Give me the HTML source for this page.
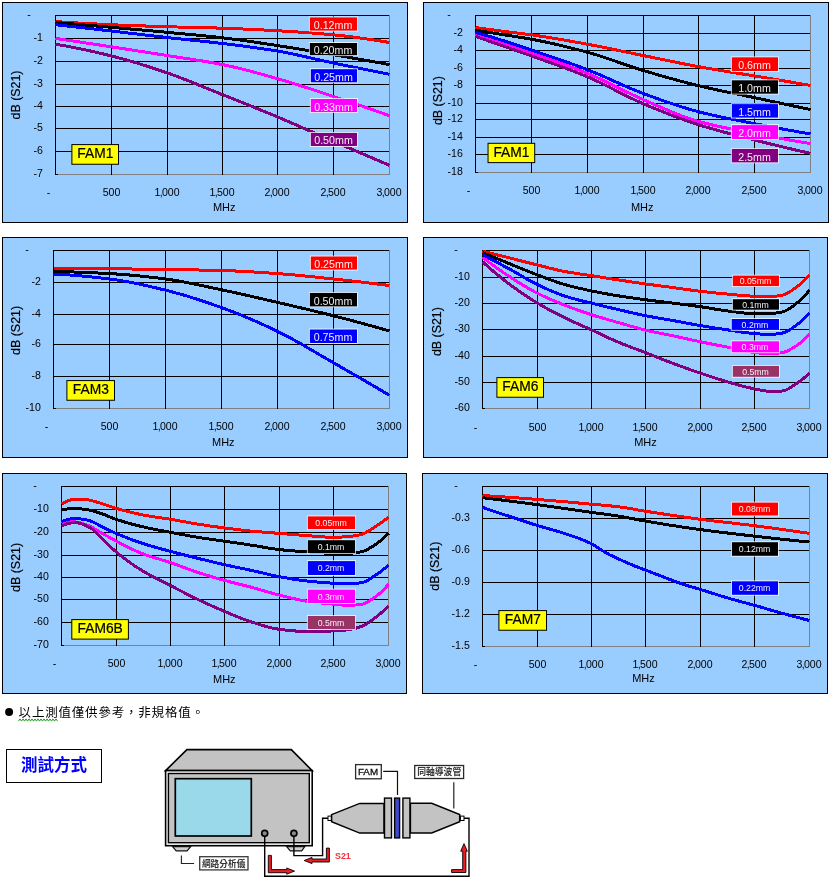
<!DOCTYPE html>
<html lang="zh-Hant">
<head>
<meta charset="utf-8">
<title>FAM S21</title>
<style>
html,body{margin:0;padding:0;background:#fff;}
body{width:831px;height:885px;overflow:hidden;position:relative;}
svg{position:absolute;left:0;top:0;display:block;}
text{white-space:pre;}
</style>
</head>
<body>
<svg width="831" height="885" viewBox="0 0 831 885">
<rect width="831" height="885" fill="#fff"/>
<g>
<rect x="2.5" y="2.5" width="405" height="220" fill="#99CCFF" stroke="#000" stroke-width="1"/>
<rect x="55.5" y="15.5" width="334" height="159" fill="none" stroke="#808080" stroke-width="1"/>
<path d="M55 15.5H389M55 38.5H389M55 61.5H389M55 84.5H389M55 106.5H389M55 128.5H389M55 151.5H389M55 174.5H58M55.5 15V175M111.5 15V175M167.5 15V175M222.5 15V175M277.5 15V175M333.5 15V175" stroke="#000" stroke-width="1" fill="none" shape-rendering="crispEdges"/>
<g fill="none" stroke-width="3" stroke-linejoin="round" shape-rendering="crispEdges">
<path d="M55.5 38.4 L58.98 38.92 L62.46 39.43 L65.94 39.95 L69.42 40.47 L72.9 40.99 L76.38 41.52 L79.85 42.04 L83.33 42.56 L86.81 43.09 L90.29 43.62 L93.77 44.14 L97.25 44.67 L100.73 45.2 L104.21 45.73 L107.69 46.27 L111.17 46.8 L114.65 47.33 L118.12 47.87 L121.6 48.41 L125.08 48.94 L128.56 49.48 L132.04 50.02 L135.52 50.56 L139 51.11 L142.48 51.65 L145.96 52.2 L149.44 52.74 L152.92 53.29 L156.4 53.84 L159.88 54.39 L163.35 54.94 L166.83 55.5 L170.31 56.05 L173.79 56.59 L177.27 57.12 L180.75 57.65 L184.23 58.18 L187.71 58.7 L191.19 59.24 L194.67 59.77 L198.15 60.32 L201.62 60.87 L205.1 61.44 L208.58 62.03 L212.06 62.64 L215.54 63.27 L219.02 63.92 L222.5 64.6 L225.98 65.31 L229.46 66.06 L232.94 66.84 L236.42 67.66 L239.9 68.5 L243.38 69.36 L246.85 70.25 L250.33 71.16 L253.81 72.09 L257.29 73.04 L260.77 73.99 L264.25 74.96 L267.73 75.94 L271.21 76.92 L274.69 77.91 L278.17 78.9 L281.65 79.9 L285.12 80.92 L288.6 81.97 L292.08 83.03 L295.56 84.11 L299.04 85.2 L302.52 86.31 L306 87.43 L309.48 88.56 L312.96 89.7 L316.44 90.84 L319.92 91.99 L323.4 93.14 L326.88 94.3 L330.35 95.45 L333.83 96.6 L337.31 97.75 L340.79 98.91 L344.27 100.07 L347.75 101.24 L351.23 102.41 L354.71 103.59 L358.19 104.78 L361.67 105.97 L365.15 107.17 L368.62 108.37 L372.1 109.58 L375.58 110.79 L379.06 112.01 L382.54 113.24 L386.02 114.47 L389.5 115.7" stroke="#FF00FF"/>
<path d="M55.5 44.2 L58.98 44.78 L62.46 45.38 L65.94 46.01 L69.42 46.66 L72.9 47.33 L76.38 48.02 L79.85 48.73 L83.33 49.46 L86.81 50.21 L90.29 50.97 L93.77 51.75 L97.25 52.55 L100.73 53.37 L104.21 54.2 L107.69 55.04 L111.17 55.9 L114.65 56.78 L118.12 57.69 L121.6 58.63 L125.08 59.59 L128.56 60.58 L132.04 61.6 L135.52 62.63 L139 63.69 L142.48 64.77 L145.96 65.87 L149.44 66.99 L152.92 68.12 L156.4 69.27 L159.88 70.44 L163.35 71.61 L166.83 72.8 L170.31 74.01 L173.79 75.26 L177.27 76.55 L180.75 77.86 L184.23 79.21 L187.71 80.57 L191.19 81.96 L194.67 83.36 L198.15 84.77 L201.62 86.2 L205.1 87.62 L208.58 89.05 L212.06 90.48 L215.54 91.9 L219.02 93.3 L222.5 94.7 L225.98 96.09 L229.46 97.47 L232.94 98.86 L236.42 100.24 L239.9 101.63 L243.38 103.02 L246.85 104.41 L250.33 105.8 L253.81 107.2 L257.29 108.61 L260.77 110.02 L264.25 111.44 L267.73 112.87 L271.21 114.3 L274.69 115.75 L278.17 117.2 L281.65 118.67 L285.12 120.15 L288.6 121.65 L292.08 123.16 L295.56 124.67 L299.04 126.2 L302.52 127.73 L306 129.26 L309.48 130.8 L312.96 132.34 L316.44 133.88 L319.92 135.42 L323.4 136.95 L326.88 138.47 L330.35 139.99 L333.83 141.5 L337.31 143 L340.79 144.5 L344.27 146 L347.75 147.5 L351.23 148.99 L354.71 150.48 L358.19 151.97 L361.67 153.46 L365.15 154.95 L368.62 156.43 L372.1 157.92 L375.58 159.4 L379.06 160.88 L382.54 162.35 L386.02 163.83 L389.5 165.3" stroke="#800080"/>
<path d="M55.5 21.6 L58.98 21.83 L62.46 22.05 L65.94 22.27 L69.42 22.48 L72.9 22.69 L76.38 22.9 L79.85 23.1 L83.33 23.3 L86.81 23.5 L90.29 23.68 L93.77 23.87 L97.25 24.04 L100.73 24.22 L104.21 24.38 L107.69 24.54 L111.17 24.7 L114.65 24.85 L118.12 25 L121.6 25.14 L125.08 25.27 L128.56 25.41 L132.04 25.54 L135.52 25.67 L139 25.79 L142.48 25.91 L145.96 26.03 L149.44 26.15 L152.92 26.26 L156.4 26.37 L159.88 26.48 L163.35 26.59 L166.83 26.7 L170.31 26.8 L173.79 26.9 L177.27 27 L180.75 27.09 L184.23 27.17 L187.71 27.26 L191.19 27.34 L194.67 27.43 L198.15 27.51 L201.62 27.6 L205.1 27.69 L208.58 27.78 L212.06 27.88 L215.54 27.98 L219.02 28.08 L222.5 28.2 L225.98 28.32 L229.46 28.45 L232.94 28.58 L236.42 28.72 L239.9 28.87 L243.38 29.02 L246.85 29.18 L250.33 29.34 L253.81 29.51 L257.29 29.68 L260.77 29.85 L264.25 30.04 L267.73 30.22 L271.21 30.41 L274.69 30.6 L278.17 30.8 L281.65 31 L285.12 31.21 L288.6 31.42 L292.08 31.64 L295.56 31.86 L299.04 32.1 L302.52 32.33 L306 32.58 L309.48 32.84 L312.96 33.1 L316.44 33.38 L319.92 33.66 L323.4 33.95 L326.88 34.26 L330.35 34.57 L333.83 34.9 L337.31 35.24 L340.79 35.61 L344.27 35.99 L347.75 36.4 L351.23 36.82 L354.71 37.26 L358.19 37.72 L361.67 38.2 L365.15 38.69 L368.62 39.19 L372.1 39.71 L375.58 40.25 L379.06 40.79 L382.54 41.35 L386.02 41.92 L389.5 42.5" stroke="#FF0000"/>
<path d="M55.5 22.4 L58.98 22.7 L62.46 23.01 L65.94 23.31 L69.42 23.62 L72.9 23.92 L76.38 24.23 L79.85 24.53 L83.33 24.84 L86.81 25.14 L90.29 25.45 L93.77 25.76 L97.25 26.07 L100.73 26.37 L104.21 26.68 L107.69 26.99 L111.17 27.3 L114.65 27.61 L118.12 27.92 L121.6 28.22 L125.08 28.53 L128.56 28.84 L132.04 29.15 L135.52 29.45 L139 29.76 L142.48 30.07 L145.96 30.39 L149.44 30.7 L152.92 31.01 L156.4 31.33 L159.88 31.65 L163.35 31.97 L166.83 32.3 L170.31 32.63 L173.79 32.95 L177.27 33.27 L180.75 33.59 L184.23 33.91 L187.71 34.24 L191.19 34.56 L194.67 34.89 L198.15 35.23 L201.62 35.57 L205.1 35.92 L208.58 36.27 L212.06 36.64 L215.54 37.01 L219.02 37.4 L222.5 37.8 L225.98 38.21 L229.46 38.64 L232.94 39.09 L236.42 39.55 L239.9 40.02 L243.38 40.51 L246.85 41 L250.33 41.5 L253.81 42.01 L257.29 42.53 L260.77 43.05 L264.25 43.58 L267.73 44.11 L271.21 44.64 L274.69 45.17 L278.17 45.7 L281.65 46.23 L285.12 46.77 L288.6 47.32 L292.08 47.87 L295.56 48.43 L299.04 48.99 L302.52 49.56 L306 50.13 L309.48 50.7 L312.96 51.28 L316.44 51.86 L319.92 52.45 L323.4 53.03 L326.88 53.62 L330.35 54.21 L333.83 54.8 L337.31 55.39 L340.79 55.99 L344.27 56.58 L347.75 57.18 L351.23 57.79 L354.71 58.39 L358.19 59 L361.67 59.61 L365.15 60.22 L368.62 60.84 L372.1 61.46 L375.58 62.08 L379.06 62.71 L382.54 63.34 L386.02 63.97 L389.5 64.6" stroke="#000000"/>
<path d="M55.5 24.7 L58.98 25.09 L62.46 25.48 L65.94 25.87 L69.42 26.26 L72.9 26.65 L76.38 27.04 L79.85 27.43 L83.33 27.83 L86.81 28.22 L90.29 28.61 L93.77 29.01 L97.25 29.41 L100.73 29.8 L104.21 30.2 L107.69 30.6 L111.17 31 L114.65 31.4 L118.12 31.81 L121.6 32.21 L125.08 32.62 L128.56 33.03 L132.04 33.45 L135.52 33.86 L139 34.27 L142.48 34.68 L145.96 35.09 L149.44 35.5 L152.92 35.91 L156.4 36.31 L159.88 36.71 L163.35 37.11 L166.83 37.5 L170.31 37.89 L173.79 38.26 L177.27 38.63 L180.75 39 L184.23 39.36 L187.71 39.72 L191.19 40.08 L194.67 40.44 L198.15 40.8 L201.62 41.16 L205.1 41.53 L208.58 41.91 L212.06 42.29 L215.54 42.68 L219.02 43.08 L222.5 43.5 L225.98 43.92 L229.46 44.35 L232.94 44.78 L236.42 45.21 L239.9 45.65 L243.38 46.1 L246.85 46.56 L250.33 47.02 L253.81 47.5 L257.29 47.99 L260.77 48.49 L264.25 49 L267.73 49.52 L271.21 50.07 L274.69 50.62 L278.17 51.2 L281.65 51.8 L285.12 52.45 L288.6 53.13 L292.08 53.83 L295.56 54.57 L299.04 55.32 L302.52 56.09 L306 56.88 L309.48 57.67 L312.96 58.47 L316.44 59.26 L319.92 60.06 L323.4 60.84 L326.88 61.61 L330.35 62.37 L333.83 63.1 L337.31 63.82 L340.79 64.54 L344.27 65.25 L347.75 65.96 L351.23 66.67 L354.71 67.38 L358.19 68.08 L361.67 68.79 L365.15 69.48 L368.62 70.18 L372.1 70.87 L375.58 71.57 L379.06 72.25 L382.54 72.94 L386.02 73.62 L389.5 74.3" stroke="#0000FF"/>
</g>
<g font-family='"Liberation Sans", sans-serif' font-size="11.2" fill="#000">
<text transform="translate(29 18.1) scale(0.945 1)" text-anchor="middle">-</text>
<text transform="translate(42.8 41.1) scale(0.945 1)" text-anchor="end">-1</text>
<text transform="translate(42.8 64.1) scale(0.945 1)" text-anchor="end">-2</text>
<text transform="translate(42.8 87.1) scale(0.945 1)" text-anchor="end">-3</text>
<text transform="translate(42.8 109.1) scale(0.945 1)" text-anchor="end">-4</text>
<text transform="translate(42.8 131.1) scale(0.945 1)" text-anchor="end">-5</text>
<text transform="translate(42.8 154.1) scale(0.945 1)" text-anchor="end">-6</text>
<text transform="translate(42.8 177.1) scale(0.945 1)" text-anchor="end">-7</text>
<text transform="translate(48.5 195.8) scale(0.945 1)" text-anchor="middle">-</text>
<text transform="translate(111.5 195.8) scale(0.945 1)" text-anchor="middle">500</text>
<text transform="translate(167.1 195.8) scale(0.945 1)" text-anchor="middle">1<tspan dx="-0.7">,</tspan><tspan dx="-0.9">000</tspan></text>
<text transform="translate(222.1 195.8) scale(0.945 1)" text-anchor="middle">1<tspan dx="-0.7">,</tspan><tspan dx="-0.9">500</tspan></text>
<text transform="translate(277.1 195.8) scale(0.945 1)" text-anchor="middle">2<tspan dx="-0.7">,</tspan><tspan dx="-0.9">000</tspan></text>
<text transform="translate(333.1 195.8) scale(0.945 1)" text-anchor="middle">2<tspan dx="-0.7">,</tspan><tspan dx="-0.9">500</tspan></text>
<text transform="translate(389.1 195.8) scale(0.945 1)" text-anchor="middle">3<tspan dx="-0.7">,</tspan><tspan dx="-0.9">000</tspan></text>
<text transform="translate(224.2 211) scale(0.98 1)" text-anchor="middle">MHz</text>
</g>
<text transform="translate(19.8 95) rotate(-90) scale(0.933 1)" text-anchor="middle" font-family='"Liberation Sans", sans-serif' font-size="13.3" fill="#000" stroke="#000" stroke-width="0.2">dB (S21)</text>
<rect x="71.9" y="144.6" width="46.6" height="19.65" fill="#FFFF00" stroke="#000" stroke-width="1"/>
<text x="95.3" y="157.8" text-anchor="middle" font-family='"Liberation Sans", sans-serif' font-size="13.8" fill="#000" stroke="#000" stroke-width="0.2">FAM1</text>
<rect x="308.9" y="16.5" width="49.1" height="15" fill="#fff" fill-opacity="0.8"/>
<rect x="309.8" y="17.4" width="47.3" height="13.2" fill="#FF0000"/>
<text transform="translate(333.05 29) scale(0.946 1)" text-anchor="middle" font-family='"Liberation Sans", sans-serif' font-size="11.3" fill="#fff" fill-opacity="0.93">0.12mm</text>
<rect x="308.9" y="42.1" width="49.1" height="14" fill="#fff" fill-opacity="0.8"/>
<rect x="309.8" y="43" width="47.3" height="12.2" fill="#000000"/>
<text transform="translate(333.05 54) scale(0.946 1)" text-anchor="middle" font-family='"Liberation Sans", sans-serif' font-size="11.3" fill="#fff" fill-opacity="0.93">0.20mm</text>
<rect x="309.9" y="68.3" width="48.1" height="14.9" fill="#fff" fill-opacity="0.8"/>
<rect x="310.8" y="69.2" width="46.3" height="13.1" fill="#0000FF"/>
<text transform="translate(333.55 80.7) scale(0.946 1)" text-anchor="middle" font-family='"Liberation Sans", sans-serif' font-size="11.3" fill="#fff" fill-opacity="0.93">0.25mm</text>
<rect x="309.9" y="98.1" width="48" height="14.9" fill="#fff" fill-opacity="0.8"/>
<rect x="310.8" y="99" width="46.2" height="13.1" fill="#FF00FF"/>
<text transform="translate(333.5 110.95) scale(0.946 1)" text-anchor="middle" font-family='"Liberation Sans", sans-serif' font-size="11.3" fill="#fff" fill-opacity="0.93">0.33mm</text>
<rect x="309.9" y="132" width="48" height="14.9" fill="#fff" fill-opacity="0.8"/>
<rect x="310.8" y="132.9" width="46.2" height="13.1" fill="#800080"/>
<text transform="translate(333.5 143.95) scale(0.946 1)" text-anchor="middle" font-family='"Liberation Sans", sans-serif' font-size="11.3" fill="#fff" fill-opacity="0.93">0.50mm</text>
</g>
<g>
<rect x="423.5" y="2.5" width="405" height="220" fill="#99CCFF" stroke="#000" stroke-width="1"/>
<rect x="475.5" y="15.5" width="335" height="157" fill="none" stroke="#808080" stroke-width="1"/>
<path d="M475 15.5H810M475 33.5H810M475 50.5H810M475 68.5H810M475 85.5H810M475 103.5H810M475 119.5H810M475 137.5H810M475 154.5H810M475 172.5H478M475.5 15V173M531.5 15V173M587.5 15V173M643.5 15V173M698.5 15V173M754.5 15V173" stroke="#000" stroke-width="1" fill="none" shape-rendering="crispEdges"/>
<g fill="none" stroke-width="3" stroke-linejoin="round" shape-rendering="crispEdges">
<path d="M475.5 34.4 L478.99 35.52 L482.48 36.64 L485.97 37.77 L489.46 38.9 L492.95 40.04 L496.44 41.19 L499.93 42.34 L503.42 43.5 L506.91 44.66 L510.4 45.83 L513.89 47.01 L517.38 48.19 L520.86 49.38 L524.35 50.58 L527.84 51.79 L531.33 53 L534.82 54.22 L538.31 55.42 L541.8 56.63 L545.29 57.83 L548.78 59.03 L552.27 60.24 L555.76 61.46 L559.25 62.68 L562.74 63.92 L566.23 65.18 L569.72 66.45 L573.21 67.75 L576.7 69.06 L580.19 70.41 L583.68 71.79 L587.17 73.2 L590.66 74.66 L594.15 76.19 L597.64 77.77 L601.12 79.4 L604.61 81.07 L608.1 82.76 L611.59 84.48 L615.08 86.21 L618.57 87.95 L622.06 89.68 L625.55 91.4 L629.04 93.09 L632.53 94.76 L636.02 96.39 L639.51 97.97 L643 99.5 L646.49 101.01 L649.98 102.53 L653.47 104.05 L656.96 105.58 L660.45 107.1 L663.94 108.61 L667.43 110.09 L670.92 111.55 L674.41 112.98 L677.9 114.37 L681.39 115.71 L684.88 117 L688.36 118.23 L691.85 119.4 L695.34 120.49 L698.83 121.5 L702.32 122.45 L705.81 123.35 L709.3 124.22 L712.79 125.04 L716.28 125.84 L719.77 126.61 L723.26 127.35 L726.75 128.07 L730.24 128.77 L733.73 129.46 L737.22 130.14 L740.71 130.81 L744.2 131.48 L747.69 132.15 L751.18 132.82 L754.67 133.5 L758.16 134.18 L761.65 134.86 L765.14 135.53 L768.62 136.19 L772.11 136.85 L775.6 137.5 L779.09 138.14 L782.58 138.78 L786.07 139.41 L789.56 140.03 L793.05 140.64 L796.54 141.25 L800.03 141.85 L803.52 142.44 L807.01 143.02 L810.5 143.6" stroke="#FF00FF"/>
<path d="M475.5 36.4 L478.99 37.61 L482.48 38.82 L485.97 40.03 L489.46 41.24 L492.95 42.45 L496.44 43.67 L499.93 44.88 L503.42 46.1 L506.91 47.32 L510.4 48.53 L513.89 49.74 L517.38 50.96 L520.86 52.18 L524.35 53.41 L527.84 54.65 L531.33 55.9 L534.82 57.15 L538.31 58.4 L541.8 59.64 L545.29 60.88 L548.78 62.12 L552.27 63.37 L555.76 64.62 L559.25 65.88 L562.74 67.16 L566.23 68.45 L569.72 69.76 L573.21 71.09 L576.7 72.45 L580.19 73.84 L583.68 75.25 L587.17 76.7 L590.66 78.2 L594.15 79.78 L597.64 81.41 L601.12 83.09 L604.61 84.81 L608.1 86.56 L611.59 88.34 L615.08 90.12 L618.57 91.9 L622.06 93.68 L625.55 95.43 L629.04 97.16 L632.53 98.85 L636.02 100.5 L639.51 102.08 L643 103.6 L646.49 105.08 L649.98 106.54 L653.47 107.99 L656.96 109.42 L660.45 110.83 L663.94 112.23 L667.43 113.6 L670.92 114.95 L674.41 116.28 L677.9 117.58 L681.39 118.86 L684.88 120.11 L688.36 121.33 L691.85 122.52 L695.34 123.68 L698.83 124.8 L702.32 125.89 L705.81 126.95 L709.3 127.99 L712.79 129 L716.28 129.98 L719.77 130.95 L723.26 131.9 L726.75 132.83 L730.24 133.75 L733.73 134.66 L737.22 135.56 L740.71 136.45 L744.2 137.34 L747.69 138.23 L751.18 139.11 L754.67 140 L758.16 140.89 L761.65 141.77 L765.14 142.64 L768.62 143.51 L772.11 144.37 L775.6 145.23 L779.09 146.08 L782.58 146.92 L786.07 147.75 L789.56 148.58 L793.05 149.4 L796.54 150.22 L800.03 151.02 L803.52 151.82 L807.01 152.62 L810.5 153.4" stroke="#800080"/>
<path d="M475.5 27.5 L478.99 27.99 L482.48 28.48 L485.97 28.96 L489.46 29.44 L492.95 29.91 L496.44 30.38 L499.93 30.84 L503.42 31.3 L506.91 31.75 L510.4 32.17 L513.89 32.59 L517.38 33.01 L520.86 33.43 L524.35 33.87 L527.84 34.32 L531.33 34.8 L534.82 35.3 L538.31 35.82 L541.8 36.35 L545.29 36.9 L548.78 37.46 L552.27 38.03 L555.76 38.61 L559.25 39.2 L562.74 39.81 L566.23 40.42 L569.72 41.03 L573.21 41.66 L576.7 42.29 L580.19 42.92 L583.68 43.56 L587.17 44.2 L590.66 44.85 L594.15 45.51 L597.64 46.19 L601.12 46.88 L604.61 47.58 L608.1 48.29 L611.59 49.01 L615.08 49.73 L618.57 50.45 L622.06 51.18 L625.55 51.91 L629.04 52.63 L632.53 53.36 L636.02 54.08 L639.51 54.79 L643 55.5 L646.49 56.21 L649.98 56.92 L653.47 57.64 L656.96 58.36 L660.45 59.08 L663.94 59.8 L667.43 60.52 L670.92 61.24 L674.41 61.95 L677.9 62.66 L681.39 63.36 L684.88 64.05 L688.36 64.73 L691.85 65.4 L695.34 66.06 L698.83 66.7 L702.32 67.33 L705.81 67.94 L709.3 68.55 L712.79 69.14 L716.28 69.73 L719.77 70.31 L723.26 70.88 L726.75 71.45 L730.24 72.02 L733.73 72.58 L737.22 73.14 L740.71 73.71 L744.2 74.27 L747.69 74.84 L751.18 75.42 L754.67 76 L758.16 76.58 L761.65 77.17 L765.14 77.75 L768.62 78.34 L772.11 78.93 L775.6 79.51 L779.09 80.1 L782.58 80.69 L786.07 81.28 L789.56 81.86 L793.05 82.45 L796.54 83.04 L800.03 83.63 L803.52 84.22 L807.01 84.81 L810.5 85.4" stroke="#FF0000"/>
<path d="M475.5 30.2 L478.99 30.76 L482.48 31.32 L485.97 31.89 L489.46 32.45 L492.95 33.01 L496.44 33.58 L499.93 34.14 L503.42 34.7 L506.91 35.25 L510.4 35.79 L513.89 36.32 L517.38 36.86 L520.86 37.41 L524.35 37.97 L527.84 38.57 L531.33 39.2 L534.82 39.86 L538.31 40.55 L541.8 41.26 L545.29 41.99 L548.78 42.74 L552.27 43.51 L555.76 44.3 L559.25 45.11 L562.74 45.94 L566.23 46.78 L569.72 47.64 L573.21 48.52 L576.7 49.42 L580.19 50.33 L583.68 51.26 L587.17 52.2 L590.66 53.18 L594.15 54.21 L597.64 55.28 L601.12 56.39 L604.61 57.54 L608.1 58.71 L611.59 59.91 L615.08 61.11 L618.57 62.32 L622.06 63.53 L625.55 64.73 L629.04 65.92 L632.53 67.09 L636.02 68.23 L639.51 69.33 L643 70.4 L646.49 71.44 L649.98 72.47 L653.47 73.5 L656.96 74.52 L660.45 75.53 L663.94 76.54 L667.43 77.53 L670.92 78.51 L674.41 79.47 L677.9 80.43 L681.39 81.37 L684.88 82.29 L688.36 83.19 L691.85 84.08 L695.34 84.95 L698.83 85.8 L702.32 86.63 L705.81 87.43 L709.3 88.22 L712.79 88.99 L716.28 89.74 L719.77 90.49 L723.26 91.22 L726.75 91.94 L730.24 92.66 L733.73 93.37 L737.22 94.08 L740.71 94.8 L744.2 95.51 L747.69 96.23 L751.18 96.96 L754.67 97.7 L758.16 98.44 L761.65 99.19 L765.14 99.93 L768.62 100.67 L772.11 101.42 L775.6 102.16 L779.09 102.91 L782.58 103.65 L786.07 104.39 L789.56 105.14 L793.05 105.88 L796.54 106.62 L800.03 107.37 L803.52 108.11 L807.01 108.86 L810.5 109.6" stroke="#000000"/>
<path d="M475.5 32.4 L478.99 33.38 L482.48 34.38 L485.97 35.4 L489.46 36.43 L492.95 37.47 L496.44 38.54 L499.93 39.61 L503.42 40.7 L506.91 41.81 L510.4 42.94 L513.89 44.09 L517.38 45.26 L520.86 46.43 L524.35 47.62 L527.84 48.81 L531.33 50 L534.82 51.19 L538.31 52.37 L541.8 53.55 L545.29 54.73 L548.78 55.91 L552.27 57.1 L555.76 58.29 L559.25 59.49 L562.74 60.7 L566.23 61.92 L569.72 63.16 L573.21 64.41 L576.7 65.67 L580.19 66.96 L583.68 68.27 L587.17 69.6 L590.66 70.97 L594.15 72.4 L597.64 73.86 L601.12 75.37 L604.61 76.9 L608.1 78.46 L611.59 80.02 L615.08 81.59 L618.57 83.16 L622.06 84.72 L625.55 86.26 L629.04 87.77 L632.53 89.25 L636.02 90.68 L639.51 92.07 L643 93.4 L646.49 94.69 L649.98 95.98 L653.47 97.25 L656.96 98.52 L660.45 99.76 L663.94 100.99 L667.43 102.2 L670.92 103.39 L674.41 104.55 L677.9 105.69 L681.39 106.79 L684.88 107.87 L688.36 108.91 L691.85 109.91 L695.34 110.88 L698.83 111.8 L702.32 112.69 L705.81 113.54 L709.3 114.37 L712.79 115.18 L716.28 115.96 L719.77 116.72 L723.26 117.46 L726.75 118.18 L730.24 118.9 L733.73 119.6 L737.22 120.29 L740.71 120.97 L744.2 121.65 L747.69 122.34 L751.18 123.02 L754.67 123.7 L758.16 124.38 L761.65 125.06 L765.14 125.73 L768.62 126.4 L772.11 127.06 L775.6 127.71 L779.09 128.36 L782.58 129 L786.07 129.64 L789.56 130.27 L793.05 130.89 L796.54 131.51 L800.03 132.12 L803.52 132.72 L807.01 133.31 L810.5 133.9" stroke="#0000FF"/>
</g>
<g font-family='"Liberation Sans", sans-serif' font-size="11.2" fill="#000">
<text transform="translate(449 18.1) scale(0.945 1)" text-anchor="middle">-</text>
<text transform="translate(462.8 36.1) scale(0.945 1)" text-anchor="end">-2</text>
<text transform="translate(462.8 53.1) scale(0.945 1)" text-anchor="end">-4</text>
<text transform="translate(462.8 71.1) scale(0.945 1)" text-anchor="end">-6</text>
<text transform="translate(462.8 88.1) scale(0.945 1)" text-anchor="end">-8</text>
<text transform="translate(462.8 106.1) scale(0.945 1)" text-anchor="end">-10</text>
<text transform="translate(462.8 122.1) scale(0.945 1)" text-anchor="end">-12</text>
<text transform="translate(462.8 140.1) scale(0.945 1)" text-anchor="end">-14</text>
<text transform="translate(462.8 157.1) scale(0.945 1)" text-anchor="end">-16</text>
<text transform="translate(462.8 175.1) scale(0.945 1)" text-anchor="end">-18</text>
<text transform="translate(468.5 193.8) scale(0.945 1)" text-anchor="middle">-</text>
<text transform="translate(531.5 193.8) scale(0.945 1)" text-anchor="middle">500</text>
<text transform="translate(587.1 193.8) scale(0.945 1)" text-anchor="middle">1<tspan dx="-0.7">,</tspan><tspan dx="-0.9">000</tspan></text>
<text transform="translate(643.1 193.8) scale(0.945 1)" text-anchor="middle">1<tspan dx="-0.7">,</tspan><tspan dx="-0.9">500</tspan></text>
<text transform="translate(698.1 193.8) scale(0.945 1)" text-anchor="middle">2<tspan dx="-0.7">,</tspan><tspan dx="-0.9">000</tspan></text>
<text transform="translate(754.1 193.8) scale(0.945 1)" text-anchor="middle">2<tspan dx="-0.7">,</tspan><tspan dx="-0.9">500</tspan></text>
<text transform="translate(810.1 193.8) scale(0.945 1)" text-anchor="middle">3<tspan dx="-0.7">,</tspan><tspan dx="-0.9">000</tspan></text>
<text transform="translate(642.2 211) scale(0.98 1)" text-anchor="middle">MHz</text>
</g>
<text transform="translate(441.6 100.6) rotate(-90) scale(0.933 1)" text-anchor="middle" font-family='"Liberation Sans", sans-serif' font-size="13.3" fill="#000" stroke="#000" stroke-width="0.2">dB (S21)</text>
<rect x="488.05" y="143.3" width="46.65" height="19.3" fill="#FFFF00" stroke="#000" stroke-width="1"/>
<text x="511.48" y="156.8" text-anchor="middle" font-family='"Liberation Sans", sans-serif' font-size="13.8" fill="#000" stroke="#000" stroke-width="0.2">FAM1</text>
<rect x="730.9" y="56.4" width="48" height="15.5" fill="#fff" fill-opacity="0.8"/>
<rect x="731.8" y="57.3" width="46.2" height="13.7" fill="#FF0000"/>
<text transform="translate(754.5 69.3) scale(0.946 1)" text-anchor="middle" font-family='"Liberation Sans", sans-serif' font-size="11.3" fill="#fff" fill-opacity="0.93">0.6mm</text>
<rect x="730.9" y="79.4" width="48" height="15.2" fill="#fff" fill-opacity="0.8"/>
<rect x="731.8" y="80.3" width="46.2" height="13.4" fill="#000000"/>
<text transform="translate(754.5 92) scale(0.946 1)" text-anchor="middle" font-family='"Liberation Sans", sans-serif' font-size="11.3" fill="#fff" fill-opacity="0.93">1.0mm</text>
<rect x="730.9" y="103.2" width="48" height="15.3" fill="#fff" fill-opacity="0.8"/>
<rect x="731.8" y="104.1" width="46.2" height="13.5" fill="#0000FF"/>
<text transform="translate(754.5 116) scale(0.946 1)" text-anchor="middle" font-family='"Liberation Sans", sans-serif' font-size="11.3" fill="#fff" fill-opacity="0.93">1.5mm</text>
<rect x="730.9" y="124.2" width="48" height="15.7" fill="#fff" fill-opacity="0.8"/>
<rect x="731.8" y="125.1" width="46.2" height="13.9" fill="#FF00FF"/>
<text transform="translate(754.5 137.3) scale(0.946 1)" text-anchor="middle" font-family='"Liberation Sans", sans-serif' font-size="11.3" fill="#fff" fill-opacity="0.93">2.0mm</text>
<rect x="730.9" y="148" width="48" height="15.3" fill="#fff" fill-opacity="0.8"/>
<rect x="731.8" y="148.9" width="46.2" height="13.5" fill="#800080"/>
<text transform="translate(754.5 160.8) scale(0.946 1)" text-anchor="middle" font-family='"Liberation Sans", sans-serif' font-size="11.3" fill="#fff" fill-opacity="0.93">2.5mm</text>
</g>
<g>
<rect x="2.5" y="237.5" width="405" height="220" fill="#99CCFF" stroke="#000" stroke-width="1"/>
<rect x="53.5" y="250.5" width="336" height="158" fill="none" stroke="#808080" stroke-width="1"/>
<path d="M53 250.5H389M53 282.5H389M53 314.5H389M53 344.5H389M53 376.5H389M53 408.5H56M53.5 250V409M109.5 250V409M165.5 250V409M221.5 250V409M277.5 250V409M333.5 250V409" stroke="#000" stroke-width="1" fill="none" shape-rendering="crispEdges"/>
<g fill="none" stroke-width="3" stroke-linejoin="round" shape-rendering="crispEdges">
<path d="M53.5 268.6 L57 268.6 L60.5 268.6 L64 268.61 L67.5 268.62 L71 268.63 L74.5 268.64 L78 268.65 L81.5 268.66 L85 268.68 L88.5 268.69 L92 268.71 L95.5 268.72 L99 268.74 L102.5 268.76 L106 268.78 L109.5 268.8 L113 268.82 L116.5 268.85 L120 268.88 L123.5 268.91 L127 268.95 L130.5 268.99 L134 269.04 L137.5 269.09 L141 269.13 L144.5 269.19 L148 269.24 L151.5 269.29 L155 269.34 L158.5 269.4 L162 269.45 L165.5 269.5 L169 269.55 L172.5 269.6 L176 269.65 L179.5 269.7 L183 269.75 L186.5 269.8 L190 269.86 L193.5 269.91 L197 269.97 L200.5 270.03 L204 270.1 L207.5 270.17 L211 270.24 L214.5 270.32 L218 270.41 L221.5 270.5 L225 270.6 L228.5 270.72 L232 270.86 L235.5 271.01 L239 271.18 L242.5 271.36 L246 271.55 L249.5 271.75 L253 271.96 L256.5 272.18 L260 272.4 L263.5 272.63 L267 272.87 L270.5 273.11 L274 273.35 L277.5 273.6 L281 273.86 L284.5 274.13 L288 274.42 L291.5 274.72 L295 275.04 L298.5 275.37 L302 275.71 L305.5 276.05 L309 276.41 L312.5 276.77 L316 277.14 L319.5 277.51 L323 277.88 L326.5 278.26 L330 278.63 L333.5 279 L337 279.37 L340.5 279.75 L344 280.13 L347.5 280.51 L351 280.91 L354.5 281.3 L358 281.7 L361.5 282.11 L365 282.52 L368.5 282.93 L372 283.35 L375.5 283.77 L379 284.2 L382.5 284.63 L386 285.06 L389.5 285.5" stroke="#FF0000"/>
<path d="M53.5 271.6 L57 271.63 L60.5 271.67 L64 271.74 L67.5 271.82 L71 271.91 L74.5 272.02 L78 272.14 L81.5 272.27 L85 272.41 L88.5 272.57 L92 272.73 L95.5 272.89 L99 273.06 L102.5 273.24 L106 273.42 L109.5 273.6 L113 273.79 L116.5 274.01 L120 274.25 L123.5 274.52 L127 274.8 L130.5 275.1 L134 275.43 L137.5 275.76 L141 276.12 L144.5 276.49 L148 276.88 L151.5 277.28 L155 277.69 L158.5 278.12 L162 278.55 L165.5 279 L169 279.47 L172.5 279.99 L176 280.56 L179.5 281.15 L183 281.79 L186.5 282.45 L190 283.14 L193.5 283.85 L197 284.57 L200.5 285.31 L204 286.06 L207.5 286.81 L211 287.57 L214.5 288.32 L218 289.07 L221.5 289.8 L225 290.53 L228.5 291.28 L232 292.03 L235.5 292.8 L239 293.57 L242.5 294.35 L246 295.14 L249.5 295.93 L253 296.73 L256.5 297.53 L260 298.34 L263.5 299.15 L267 299.96 L270.5 300.77 L274 301.59 L277.5 302.4 L281 303.21 L284.5 304.02 L288 304.84 L291.5 305.65 L295 306.47 L298.5 307.29 L302 308.11 L305.5 308.94 L309 309.78 L312.5 310.62 L316 311.46 L319.5 312.31 L323 313.17 L326.5 314.04 L330 314.91 L333.5 315.8 L337 316.69 L340.5 317.6 L344 318.51 L347.5 319.42 L351 320.35 L354.5 321.28 L358 322.22 L361.5 323.17 L365 324.12 L368.5 325.08 L372 326.05 L375.5 327.03 L379 328.01 L382.5 329 L386 330 L389.5 331" stroke="#000000"/>
<path d="M53.5 274.2 L57 274.32 L60.5 274.47 L64 274.65 L67.5 274.86 L71 275.1 L74.5 275.36 L78 275.65 L81.5 275.96 L85 276.29 L88.5 276.64 L92 277 L95.5 277.38 L99 277.77 L102.5 278.17 L106 278.58 L109.5 279 L113 279.45 L116.5 279.94 L120 280.48 L123.5 281.06 L127 281.68 L130.5 282.33 L134 283.02 L137.5 283.74 L141 284.48 L144.5 285.25 L148 286.04 L151.5 286.85 L155 287.67 L158.5 288.51 L162 289.35 L165.5 290.2 L169 291.07 L172.5 291.98 L176 292.92 L179.5 293.89 L183 294.9 L186.5 295.93 L190 297 L193.5 298.09 L197 299.21 L200.5 300.35 L204 301.51 L207.5 302.69 L211 303.9 L214.5 305.11 L218 306.35 L221.5 307.6 L225 308.87 L228.5 310.18 L232 311.51 L235.5 312.88 L239 314.27 L242.5 315.7 L246 317.15 L249.5 318.63 L253 320.14 L256.5 321.67 L260 323.23 L263.5 324.82 L267 326.43 L270.5 328.06 L274 329.72 L277.5 331.4 L281 333.12 L284.5 334.9 L288 336.74 L291.5 338.62 L295 340.54 L298.5 342.49 L302 344.48 L305.5 346.49 L309 348.52 L312.5 350.57 L316 352.62 L319.5 354.67 L323 356.72 L326.5 358.76 L330 360.79 L333.5 362.8 L337 364.8 L340.5 366.8 L344 368.81 L347.5 370.82 L351 372.84 L354.5 374.86 L358 376.88 L361.5 378.91 L365 380.94 L368.5 382.98 L372 385.02 L375.5 387.07 L379 389.12 L382.5 391.18 L386 393.24 L389.5 395.3" stroke="#0000FF"/>
</g>
<g font-family='"Liberation Sans", sans-serif' font-size="11.2" fill="#000">
<text transform="translate(27 253.1) scale(0.945 1)" text-anchor="middle">-</text>
<text transform="translate(40.8 285.1) scale(0.945 1)" text-anchor="end">-2</text>
<text transform="translate(40.8 317.1) scale(0.945 1)" text-anchor="end">-4</text>
<text transform="translate(40.8 347.1) scale(0.945 1)" text-anchor="end">-6</text>
<text transform="translate(40.8 379.1) scale(0.945 1)" text-anchor="end">-8</text>
<text transform="translate(40.8 411.1) scale(0.945 1)" text-anchor="end">-10</text>
<text transform="translate(46.5 429.8) scale(0.945 1)" text-anchor="middle">-</text>
<text transform="translate(109.5 429.8) scale(0.945 1)" text-anchor="middle">500</text>
<text transform="translate(165.1 429.8) scale(0.945 1)" text-anchor="middle">1<tspan dx="-0.7">,</tspan><tspan dx="-0.9">000</tspan></text>
<text transform="translate(221.1 429.8) scale(0.945 1)" text-anchor="middle">1<tspan dx="-0.7">,</tspan><tspan dx="-0.9">500</tspan></text>
<text transform="translate(277.1 429.8) scale(0.945 1)" text-anchor="middle">2<tspan dx="-0.7">,</tspan><tspan dx="-0.9">000</tspan></text>
<text transform="translate(333.1 429.8) scale(0.945 1)" text-anchor="middle">2<tspan dx="-0.7">,</tspan><tspan dx="-0.9">500</tspan></text>
<text transform="translate(389.1 429.8) scale(0.945 1)" text-anchor="middle">3<tspan dx="-0.7">,</tspan><tspan dx="-0.9">000</tspan></text>
<text transform="translate(223.3 446.3) scale(0.98 1)" text-anchor="middle">MHz</text>
</g>
<text transform="translate(19.6 330.4) rotate(-90) scale(0.933 1)" text-anchor="middle" font-family='"Liberation Sans", sans-serif' font-size="13.3" fill="#000" stroke="#000" stroke-width="0.2">dB (S21)</text>
<rect x="66.9" y="380.6" width="47.6" height="19.65" fill="#FFFF00" stroke="#000" stroke-width="1"/>
<text x="90.8" y="393.8" text-anchor="middle" font-family='"Liberation Sans", sans-serif' font-size="13.8" fill="#000" stroke="#000" stroke-width="0.2">FAM3</text>
<rect x="309.9" y="255.6" width="48" height="14.9" fill="#fff" fill-opacity="0.8"/>
<rect x="310.8" y="256.5" width="46.2" height="13.1" fill="#FF0000"/>
<text transform="translate(333.5 268) scale(0.946 1)" text-anchor="middle" font-family='"Liberation Sans", sans-serif' font-size="11.3" fill="#fff" fill-opacity="0.93">0.25mm</text>
<rect x="308.9" y="292" width="49" height="15.3" fill="#fff" fill-opacity="0.8"/>
<rect x="309.8" y="292.9" width="47.2" height="13.5" fill="#000000"/>
<text transform="translate(333 304.8) scale(0.946 1)" text-anchor="middle" font-family='"Liberation Sans", sans-serif' font-size="11.3" fill="#fff" fill-opacity="0.93">0.50mm</text>
<rect x="308.9" y="328.6" width="49" height="15.3" fill="#fff" fill-opacity="0.8"/>
<rect x="309.8" y="329.5" width="47.2" height="13.5" fill="#0000FF"/>
<text transform="translate(333 341.4) scale(0.946 1)" text-anchor="middle" font-family='"Liberation Sans", sans-serif' font-size="11.3" fill="#fff" fill-opacity="0.93">0.75mm</text>
</g>
<g>
<rect x="423.5" y="237.5" width="404" height="220" fill="#99CCFF" stroke="#000" stroke-width="1"/>
<rect x="482.5" y="250.5" width="327" height="158" fill="none" stroke="#808080" stroke-width="1"/>
<path d="M482 250.5H809M482 277.5H809M482 303.5H809M482 329.5H809M482 356.5H809M482 382.5H809M482 408.5H485M482.5 250V409M537.5 250V409M591.5 250V409M645.5 250V409M700.5 250V409M754.5 250V409" stroke="#000" stroke-width="1" fill="none" shape-rendering="crispEdges"/>
<g fill="none" stroke-width="3" stroke-linejoin="round" shape-rendering="crispEdges">
<path d="M482.5 257.3 L485.91 259.92 L489.31 262.49 L492.72 265.01 L496.12 267.48 L499.53 269.9 L502.94 272.26 L506.34 274.56 L509.75 276.8 L513.16 279 L516.56 281.17 L519.97 283.31 L523.38 285.39 L526.78 287.41 L530.19 289.36 L533.59 291.23 L537 293 L540.41 294.69 L543.81 296.31 L547.22 297.87 L550.62 299.38 L554.03 300.84 L557.44 302.26 L560.84 303.65 L564.25 305 L567.66 306.32 L571.06 307.61 L574.47 308.87 L577.88 310.09 L581.28 311.29 L584.69 312.45 L588.09 313.59 L591.5 314.7 L594.91 315.78 L598.31 316.82 L601.72 317.84 L605.12 318.83 L608.53 319.81 L611.94 320.77 L615.34 321.74 L618.75 322.7 L622.16 323.67 L625.56 324.66 L628.97 325.64 L632.38 326.61 L635.78 327.56 L639.19 328.48 L642.59 329.36 L646 330.2 L649.41 330.99 L652.81 331.73 L656.22 332.44 L659.62 333.13 L663.03 333.82 L666.44 334.5 L669.84 335.19 L673.25 335.9 L676.66 336.63 L680.06 337.37 L683.47 338.12 L686.88 338.87 L690.28 339.62 L693.69 340.36 L697.09 341.09 L700.5 341.8 L703.91 342.5 L707.31 343.18 L710.72 343.86 L714.12 344.53 L717.53 345.2 L720.94 345.86 L724.34 346.53 L727.75 347.2 L731.16 347.91 L734.56 348.66 L737.97 349.44 L741.38 350.2 L744.78 350.93 L748.19 351.59 L751.59 352.16 L755 352.6 L758.41 352.98 L761.81 353.34 L765.22 353.6 L768.62 353.7 L772.03 353.62 L775.44 353.39 L778.84 353.04 L782.25 352.6 L785.66 351.71 L789.06 350.17 L792.47 348.21 L795.88 346.1 L799.28 343.74 L802.69 340.92 L806.09 337.72 L809.5 334.2" stroke="#FF00FF"/>
<path d="M482.5 261.7 L485.91 264.78 L489.31 267.79 L492.72 270.74 L496.12 273.62 L499.53 276.42 L502.94 279.16 L506.34 281.82 L509.75 284.4 L513.16 286.91 L516.56 289.37 L519.97 291.76 L523.38 294.1 L526.78 296.37 L530.19 298.58 L533.59 300.72 L537 302.8 L540.41 304.81 L543.81 306.76 L547.22 308.66 L550.62 310.51 L554.03 312.31 L557.44 314.08 L560.84 315.8 L564.25 317.5 L567.66 319.15 L571.06 320.75 L574.47 322.3 L577.88 323.83 L581.28 325.34 L584.69 326.84 L588.09 328.36 L591.5 329.9 L594.91 331.47 L598.31 333.07 L601.72 334.68 L605.12 336.29 L608.53 337.88 L611.94 339.43 L615.34 340.95 L618.75 342.4 L622.16 343.79 L625.56 345.13 L628.97 346.43 L632.38 347.7 L635.78 348.96 L639.19 350.22 L642.59 351.5 L646 352.8 L649.41 354.13 L652.81 355.48 L656.22 356.84 L659.62 358.2 L663.03 359.55 L666.44 360.89 L669.84 362.21 L673.25 363.5 L676.66 364.77 L680.06 366.02 L683.47 367.25 L686.88 368.48 L690.28 369.68 L693.69 370.87 L697.09 372.04 L700.5 373.2 L703.91 374.34 L707.31 375.48 L710.72 376.61 L714.12 377.72 L717.53 378.81 L720.94 379.87 L724.34 380.9 L727.75 381.9 L731.16 382.88 L734.56 383.86 L737.97 384.83 L741.38 385.77 L744.78 386.67 L748.19 387.51 L751.59 388.3 L755 389 L758.41 389.72 L761.81 390.43 L765.22 390.98 L768.62 391.2 L772.03 391.19 L775.44 391.15 L778.84 391.09 L782.25 391 L785.66 390.25 L789.06 388.51 L792.47 386.27 L795.88 384 L799.28 381.71 L802.69 379.13 L806.09 376.28 L809.5 373.2" stroke="#800080"/>
<path d="M482.5 251.3 L485.91 252.13 L489.31 252.96 L492.72 253.79 L496.12 254.63 L499.53 255.46 L502.94 256.31 L506.34 257.15 L509.75 258 L513.16 258.86 L516.56 259.72 L519.97 260.59 L523.38 261.46 L526.78 262.33 L530.19 263.2 L533.59 264.06 L537 264.9 L540.41 265.75 L543.81 266.61 L547.22 267.48 L550.62 268.34 L554.03 269.17 L557.44 269.97 L560.84 270.72 L564.25 271.4 L567.66 272.02 L571.06 272.6 L574.47 273.14 L577.88 273.66 L581.28 274.16 L584.69 274.67 L588.09 275.17 L591.5 275.7 L594.91 276.24 L598.31 276.78 L601.72 277.33 L605.12 277.87 L608.53 278.41 L611.94 278.95 L615.34 279.48 L618.75 280 L622.16 280.52 L625.56 281.03 L628.97 281.54 L632.38 282.04 L635.78 282.54 L639.19 283.04 L642.59 283.52 L646 284 L649.41 284.47 L652.81 284.92 L656.22 285.37 L659.62 285.82 L663.03 286.26 L666.44 286.7 L669.84 287.15 L673.25 287.6 L676.66 288.06 L680.06 288.54 L683.47 289.03 L686.88 289.51 L690.28 289.98 L693.69 290.44 L697.09 290.89 L700.5 291.3 L703.91 291.69 L707.31 292.07 L710.72 292.44 L714.12 292.79 L717.53 293.13 L720.94 293.47 L724.34 293.79 L727.75 294.1 L731.16 294.42 L734.56 294.74 L737.97 295.06 L741.38 295.37 L744.78 295.66 L748.19 295.91 L751.59 296.13 L755 296.3 L758.41 296.44 L761.81 296.57 L765.22 296.66 L768.62 296.7 L772.03 296.58 L775.44 296.26 L778.84 295.79 L782.25 295.2 L785.66 294.11 L789.06 292.28 L792.47 290.02 L795.88 287.6 L799.28 284.97 L802.69 281.9 L806.09 278.45 L809.5 274.7" stroke="#FF0000"/>
<path d="M482.5 252.6 L485.91 254.02 L489.31 255.43 L492.72 256.84 L496.12 258.24 L499.53 259.64 L502.94 261.03 L506.34 262.42 L509.75 263.8 L513.16 265.19 L516.56 266.58 L519.97 267.96 L523.38 269.35 L526.78 270.72 L530.19 272.07 L533.59 273.4 L537 274.7 L540.41 275.99 L543.81 277.29 L547.22 278.59 L550.62 279.86 L554.03 281.09 L557.44 282.27 L560.84 283.38 L564.25 284.4 L567.66 285.35 L571.06 286.25 L574.47 287.1 L577.88 287.92 L581.28 288.7 L584.69 289.45 L588.09 290.19 L591.5 290.9 L594.91 291.6 L598.31 292.27 L601.72 292.92 L605.12 293.56 L608.53 294.17 L611.94 294.77 L615.34 295.34 L618.75 295.9 L622.16 296.44 L625.56 296.96 L628.97 297.46 L632.38 297.94 L635.78 298.42 L639.19 298.89 L642.59 299.34 L646 299.8 L649.41 300.25 L652.81 300.68 L656.22 301.1 L659.62 301.52 L663.03 301.94 L666.44 302.35 L669.84 302.77 L673.25 303.2 L676.66 303.63 L680.06 304.05 L683.47 304.47 L686.88 304.9 L690.28 305.33 L693.69 305.77 L697.09 306.23 L700.5 306.7 L703.91 307.21 L707.31 307.76 L710.72 308.34 L714.12 308.93 L717.53 309.5 L720.94 310.05 L724.34 310.56 L727.75 311 L731.16 311.42 L734.56 311.86 L737.97 312.3 L741.38 312.71 L744.78 313.06 L748.19 313.35 L751.59 313.53 L755 313.6 L758.41 313.6 L761.81 313.6 L765.22 313.6 L768.62 313.6 L772.03 313.47 L775.44 313.1 L778.84 312.56 L782.25 311.9 L785.66 310.73 L789.06 308.81 L792.47 306.44 L795.88 303.9 L799.28 301.11 L802.69 297.86 L806.09 294.19 L809.5 290.2" stroke="#000000"/>
<path d="M482.5 254.7 L485.91 256.47 L489.31 258.26 L492.72 260.06 L496.12 261.86 L499.53 263.68 L502.94 265.51 L506.34 267.35 L509.75 269.2 L513.16 271.09 L516.56 273.05 L519.97 275.03 L523.38 277.02 L526.78 278.98 L530.19 280.88 L533.59 282.7 L537 284.4 L540.41 286.03 L543.81 287.62 L547.22 289.17 L550.62 290.67 L554.03 292.1 L557.44 293.46 L560.84 294.73 L564.25 295.9 L567.66 296.97 L571.06 297.97 L574.47 298.91 L577.88 299.81 L581.28 300.67 L584.69 301.51 L588.09 302.35 L591.5 303.2 L594.91 304.05 L598.31 304.89 L601.72 305.71 L605.12 306.52 L608.53 307.33 L611.94 308.12 L615.34 308.91 L618.75 309.7 L622.16 310.49 L625.56 311.29 L628.97 312.08 L632.38 312.87 L635.78 313.64 L639.19 314.39 L642.59 315.11 L646 315.8 L649.41 316.45 L652.81 317.08 L656.22 317.68 L659.62 318.26 L663.03 318.84 L666.44 319.41 L669.84 320 L673.25 320.6 L676.66 321.22 L680.06 321.85 L683.47 322.49 L686.88 323.13 L690.28 323.77 L693.69 324.4 L697.09 325.01 L700.5 325.6 L703.91 326.17 L707.31 326.74 L710.72 327.29 L714.12 327.83 L717.53 328.36 L720.94 328.89 L724.34 329.4 L727.75 329.9 L731.16 330.41 L734.56 330.94 L737.97 331.47 L741.38 331.98 L744.78 332.47 L748.19 332.91 L751.59 333.29 L755 333.6 L758.41 333.88 L761.81 334.13 L765.22 334.33 L768.62 334.4 L772.03 334.3 L775.44 334.03 L778.84 333.61 L782.25 333.1 L785.66 332.06 L789.06 330.26 L792.47 328.01 L795.88 325.6 L799.28 322.97 L802.69 319.88 L806.09 316.4 L809.5 312.6" stroke="#0000FF"/>
</g>
<g font-family='"Liberation Sans", sans-serif' font-size="11.2" fill="#000">
<text transform="translate(456 253.1) scale(0.945 1)" text-anchor="middle">-</text>
<text transform="translate(469.8 280.1) scale(0.945 1)" text-anchor="end">-10</text>
<text transform="translate(469.8 306.1) scale(0.945 1)" text-anchor="end">-20</text>
<text transform="translate(469.8 332.1) scale(0.945 1)" text-anchor="end">-30</text>
<text transform="translate(469.8 359.1) scale(0.945 1)" text-anchor="end">-40</text>
<text transform="translate(469.8 385.1) scale(0.945 1)" text-anchor="end">-50</text>
<text transform="translate(469.8 411.1) scale(0.945 1)" text-anchor="end">-60</text>
<text transform="translate(475.5 430.6) scale(0.945 1)" text-anchor="middle">-</text>
<text transform="translate(537.5 430.6) scale(0.945 1)" text-anchor="middle">500</text>
<text transform="translate(591.1 430.6) scale(0.945 1)" text-anchor="middle">1<tspan dx="-0.7">,</tspan><tspan dx="-0.9">000</tspan></text>
<text transform="translate(645.1 430.6) scale(0.945 1)" text-anchor="middle">1<tspan dx="-0.7">,</tspan><tspan dx="-0.9">500</tspan></text>
<text transform="translate(700.1 430.6) scale(0.945 1)" text-anchor="middle">2<tspan dx="-0.7">,</tspan><tspan dx="-0.9">000</tspan></text>
<text transform="translate(754.1 430.6) scale(0.945 1)" text-anchor="middle">2<tspan dx="-0.7">,</tspan><tspan dx="-0.9">500</tspan></text>
<text transform="translate(809.1 430.6) scale(0.945 1)" text-anchor="middle">3<tspan dx="-0.7">,</tspan><tspan dx="-0.9">000</tspan></text>
<text transform="translate(645.4 446.2) scale(0.98 1)" text-anchor="middle">MHz</text>
</g>
<text transform="translate(440.6 331.6) rotate(-90) scale(0.933 1)" text-anchor="middle" font-family='"Liberation Sans", sans-serif' font-size="13.3" fill="#000" stroke="#000" stroke-width="0.2">dB (S21)</text>
<rect x="496.9" y="377.6" width="46.6" height="19.65" fill="#FFFF00" stroke="#000" stroke-width="1"/>
<text x="520.3" y="390.8" text-anchor="middle" font-family='"Liberation Sans", sans-serif' font-size="13.8" fill="#000" stroke="#000" stroke-width="0.2">FAM6</text>
<rect x="731.9" y="274.7" width="48" height="12.3" fill="#fff" fill-opacity="0.8"/>
<rect x="732.8" y="275.6" width="46.2" height="10.5" fill="#FF0000"/>
<text transform="translate(755.5 283.8) scale(1.03 1)" text-anchor="middle" font-family='"Liberation Sans", sans-serif' font-size="8.5" fill="#fff" fill-opacity="0.93">0.05mm</text>
<rect x="731.9" y="298.3" width="48" height="12.3" fill="#fff" fill-opacity="0.8"/>
<rect x="732.8" y="299.2" width="46.2" height="10.5" fill="#000000"/>
<text transform="translate(755.5 307.8) scale(1.03 1)" text-anchor="middle" font-family='"Liberation Sans", sans-serif' font-size="8.5" fill="#fff" fill-opacity="0.93">0.1mm</text>
<rect x="730.8" y="318.1" width="49.1" height="12.7" fill="#fff" fill-opacity="0.8"/>
<rect x="731.7" y="319" width="47.3" height="10.9" fill="#0000FF"/>
<text transform="translate(754.95 327.8) scale(1.03 1)" text-anchor="middle" font-family='"Liberation Sans", sans-serif' font-size="8.5" fill="#fff" fill-opacity="0.93">0.2mm</text>
<rect x="730.8" y="340.4" width="49.1" height="12.8" fill="#fff" fill-opacity="0.8"/>
<rect x="731.7" y="341.3" width="47.3" height="11" fill="#FF00FF"/>
<text transform="translate(754.95 350.2) scale(1.03 1)" text-anchor="middle" font-family='"Liberation Sans", sans-serif' font-size="8.5" fill="#fff" fill-opacity="0.93">0.3mm</text>
<rect x="731.9" y="365" width="48" height="12.7" fill="#fff" fill-opacity="0.8"/>
<rect x="732.8" y="365.9" width="46.2" height="10.9" fill="#993366"/>
<text transform="translate(755.5 374.7) scale(1.03 1)" text-anchor="middle" font-family='"Liberation Sans", sans-serif' font-size="8.5" fill="#fff" fill-opacity="0.93">0.5mm</text>
</g>
<g>
<rect x="2.5" y="473.5" width="404" height="220" fill="#99CCFF" stroke="#000" stroke-width="1"/>
<rect x="61.5" y="486.5" width="327" height="159" fill="none" stroke="#808080" stroke-width="1"/>
<path d="M61 486.5H388M61 509.5H388M61 532.5H388M61 555.5H388M61 577.5H388M61 599.5H388M61 622.5H388M61 645.5H64M61.5 486V646M116.5 486V646M170.5 486V646M224.5 486V646M279.5 486V646M333.5 486V646" stroke="#000" stroke-width="1" fill="none" shape-rendering="crispEdges"/>
<g fill="none" stroke-width="3" stroke-linejoin="round" shape-rendering="crispEdges">
<path d="M61.5 523.2 L64.91 522.45 L68.31 522.06 L71.72 521.92 L75.12 521.9 L78.53 522.27 L81.94 523.21 L85.34 524.47 L88.75 525.8 L92.16 527.36 L95.56 529.29 L98.97 531.39 L102.38 533.4 L105.78 535.32 L109.19 537.27 L112.59 539.17 L116 541 L119.41 542.77 L122.81 544.53 L126.22 546.27 L129.62 547.97 L133.03 549.61 L136.44 551.18 L139.84 552.64 L143.25 554 L146.66 555.23 L150.06 556.37 L153.47 557.43 L156.88 558.45 L160.28 559.45 L163.69 560.45 L167.09 561.5 L170.5 562.6 L173.91 563.78 L177.31 565 L180.72 566.26 L184.12 567.54 L187.53 568.81 L190.94 570.05 L194.34 571.26 L197.75 572.4 L201.16 573.49 L204.56 574.56 L207.97 575.6 L211.38 576.62 L214.78 577.62 L218.19 578.59 L221.59 579.55 L225 580.5 L228.41 581.42 L231.81 582.31 L235.22 583.17 L238.62 584.03 L242.03 584.88 L245.44 585.73 L248.84 586.6 L252.25 587.5 L255.66 588.43 L259.06 589.4 L262.47 590.38 L265.88 591.36 L269.28 592.34 L272.69 593.3 L276.09 594.23 L279.5 595.1 L282.91 595.95 L286.31 596.82 L289.72 597.67 L293.12 598.49 L296.53 599.28 L299.94 600 L303.34 600.65 L306.75 601.2 L310.16 601.68 L313.56 602.12 L316.97 602.52 L320.38 602.89 L323.78 603.24 L327.19 603.57 L330.59 603.89 L334 604.2 L337.41 604.55 L340.81 604.91 L344.22 605.19 L347.62 605.3 L351.03 605.23 L354.44 605.05 L357.84 604.77 L361.25 604.4 L364.66 603.5 L368.06 601.8 L371.47 599.63 L374.88 597.3 L378.28 594.72 L381.69 591.65 L385.09 588.14 L388.5 584.3" stroke="#FF00FF"/>
<path d="M61.5 526.2 L64.91 524.58 L68.31 523.46 L71.72 522.81 L75.12 522.6 L78.53 522.98 L81.94 523.96 L85.34 525.34 L88.75 526.9 L92.16 529.07 L95.56 532.09 L98.97 535.49 L102.38 538.8 L105.78 542.05 L109.19 545.44 L112.59 548.76 L116 551.8 L119.41 554.58 L122.81 557.26 L126.22 559.84 L129.62 562.32 L133.03 564.7 L136.44 566.99 L139.84 569.19 L143.25 571.3 L146.66 573.3 L150.06 575.2 L153.47 577.01 L156.88 578.76 L160.28 580.47 L163.69 582.16 L167.09 583.87 L170.5 585.6 L173.91 587.36 L177.31 589.12 L180.72 590.89 L184.12 592.64 L187.53 594.37 L190.94 596.08 L194.34 597.76 L197.75 599.4 L201.16 601.01 L204.56 602.6 L207.97 604.16 L211.38 605.7 L214.78 607.22 L218.19 608.71 L221.59 610.17 L225 611.6 L228.41 613.02 L231.81 614.45 L235.22 615.87 L238.62 617.25 L242.03 618.6 L245.44 619.88 L248.84 621.09 L252.25 622.2 L255.66 623.27 L259.06 624.35 L262.47 625.4 L265.88 626.39 L269.28 627.31 L272.69 628.12 L276.09 628.79 L279.5 629.3 L282.91 629.72 L286.31 630.12 L289.72 630.49 L293.12 630.82 L296.53 631.1 L299.94 631.31 L303.34 631.45 L306.75 631.5 L310.16 631.49 L313.56 631.45 L316.97 631.4 L320.38 631.33 L323.78 631.24 L327.19 631.14 L330.59 631.02 L334 630.9 L337.41 630.73 L340.81 630.49 L344.22 630.18 L347.62 629.8 L351.03 629.28 L354.44 628.54 L357.84 627.61 L361.25 626.5 L364.66 624.95 L368.06 622.85 L371.47 620.42 L374.88 617.9 L378.28 615.27 L381.69 612.4 L385.09 609.3 L388.5 606" stroke="#800080"/>
<path d="M61.5 504.2 L64.91 502.33 L68.31 500.78 L71.72 499.69 L75.12 499.2 L78.53 499.08 L81.94 499.01 L85.34 499.21 L88.75 500 L92.16 500.81 L95.56 501.75 L98.97 502.76 L102.38 503.8 L105.78 504.9 L109.19 506.08 L112.59 507.24 L116 508.3 L119.41 509.26 L122.81 510.2 L126.22 511.1 L129.62 511.97 L133.03 512.8 L136.44 513.58 L139.84 514.32 L143.25 515 L146.66 515.62 L150.06 516.2 L153.47 516.73 L156.88 517.24 L160.28 517.74 L163.69 518.24 L167.09 518.75 L170.5 519.3 L173.91 519.88 L177.31 520.49 L180.72 521.11 L184.12 521.73 L187.53 522.35 L190.94 522.96 L194.34 523.54 L197.75 524.1 L201.16 524.63 L204.56 525.15 L207.97 525.66 L211.38 526.15 L214.78 526.63 L218.19 527.1 L221.59 527.55 L225 528 L228.41 528.44 L231.81 528.87 L235.22 529.3 L238.62 529.71 L242.03 530.11 L245.44 530.5 L248.84 530.86 L252.25 531.2 L255.66 531.51 L259.06 531.81 L262.47 532.08 L265.88 532.35 L269.28 532.61 L272.69 532.87 L276.09 533.13 L279.5 533.4 L282.91 533.68 L286.31 533.96 L289.72 534.25 L293.12 534.54 L296.53 534.82 L299.94 535.09 L303.34 535.35 L306.75 535.6 L310.16 535.86 L313.56 536.14 L316.97 536.42 L320.38 536.69 L323.78 536.93 L327.19 537.12 L330.59 537.25 L334 537.3 L337.41 537.24 L340.81 537.08 L344.22 536.86 L347.62 536.6 L351.03 536.28 L354.44 535.83 L357.84 535.24 L361.25 534.5 L364.66 533.25 L368.06 531.35 L371.47 529.13 L374.88 526.9 L378.28 524.69 L381.69 522.33 L385.09 519.83 L388.5 517.2" stroke="#FF0000"/>
<path d="M61.5 509.8 L64.91 509.22 L68.31 508.81 L71.72 508.58 L75.12 508.5 L78.53 508.63 L81.94 508.98 L85.34 509.46 L88.75 510 L92.16 510.7 L95.56 511.65 L98.97 512.76 L102.38 513.9 L105.78 515.17 L109.19 516.6 L112.59 518.03 L116 519.3 L119.41 520.41 L122.81 521.47 L126.22 522.48 L129.62 523.45 L133.03 524.37 L136.44 525.25 L139.84 526.09 L143.25 526.9 L146.66 527.67 L150.06 528.39 L153.47 529.08 L156.88 529.74 L160.28 530.39 L163.69 531.02 L167.09 531.66 L170.5 532.3 L173.91 532.95 L177.31 533.6 L180.72 534.25 L184.12 534.89 L187.53 535.52 L190.94 536.14 L194.34 536.73 L197.75 537.3 L201.16 537.84 L204.56 538.36 L207.97 538.87 L211.38 539.36 L214.78 539.84 L218.19 540.32 L221.59 540.81 L225 541.3 L228.41 541.8 L231.81 542.29 L235.22 542.79 L238.62 543.28 L242.03 543.78 L245.44 544.28 L248.84 544.79 L252.25 545.3 L255.66 545.84 L259.06 546.42 L262.47 547.01 L265.88 547.6 L269.28 548.18 L272.69 548.71 L276.09 549.19 L279.5 549.6 L282.91 549.95 L286.31 550.27 L289.72 550.57 L293.12 550.84 L296.53 551.1 L299.94 551.34 L303.34 551.57 L306.75 551.8 L310.16 552.04 L313.56 552.29 L316.97 552.54 L320.38 552.77 L323.78 552.98 L327.19 553.15 L330.59 553.26 L334 553.3 L337.41 553.3 L340.81 553.3 L344.22 553.3 L347.62 553.3 L351.03 553.18 L354.44 552.86 L357.84 552.38 L361.25 551.8 L364.66 550.78 L368.06 549.12 L371.47 547.08 L374.88 544.9 L378.28 542.54 L381.69 539.8 L385.09 536.73 L388.5 533.4" stroke="#000000"/>
<path d="M61.5 521.5 L64.91 520.26 L68.31 519.32 L71.72 518.71 L75.12 518.5 L78.53 518.66 L81.94 519.08 L85.34 519.69 L88.75 520.4 L92.16 521.52 L95.56 523.21 L98.97 525.11 L102.38 526.9 L105.78 528.56 L109.19 530.24 L112.59 531.87 L116 533.4 L119.41 534.83 L122.81 536.21 L126.22 537.55 L129.62 538.84 L133.03 540.1 L136.44 541.31 L139.84 542.47 L143.25 543.6 L146.66 544.68 L150.06 545.72 L153.47 546.72 L156.88 547.69 L160.28 548.64 L163.69 549.57 L167.09 550.48 L170.5 551.4 L173.91 552.31 L177.31 553.19 L180.72 554.07 L184.12 554.93 L187.53 555.78 L190.94 556.62 L194.34 557.46 L197.75 558.3 L201.16 559.14 L204.56 559.97 L207.97 560.8 L211.38 561.62 L214.78 562.43 L218.19 563.24 L221.59 564.03 L225 564.8 L228.41 565.55 L231.81 566.29 L235.22 567.01 L238.62 567.72 L242.03 568.43 L245.44 569.14 L248.84 569.87 L252.25 570.6 L255.66 571.36 L259.06 572.15 L262.47 572.96 L265.88 573.76 L269.28 574.55 L272.69 575.32 L276.09 576.04 L279.5 576.7 L282.91 577.33 L286.31 577.94 L289.72 578.54 L293.12 579.12 L296.53 579.66 L299.94 580.16 L303.34 580.61 L306.75 581 L310.16 581.36 L313.56 581.7 L316.97 582.02 L320.38 582.32 L323.78 582.6 L327.19 582.84 L330.59 583.04 L334 583.2 L337.41 583.34 L340.81 583.47 L344.22 583.56 L347.62 583.6 L351.03 583.54 L354.44 583.38 L357.84 583.13 L361.25 582.8 L364.66 581.87 L368.06 580.08 L371.47 577.85 L374.88 575.6 L378.28 573.34 L381.69 570.84 L385.09 568.11 L388.5 565.2" stroke="#0000FF"/>
</g>
<g font-family='"Liberation Sans", sans-serif' font-size="11.2" fill="#000">
<text transform="translate(35 489.1) scale(0.945 1)" text-anchor="middle">-</text>
<text transform="translate(48.8 512.1) scale(0.945 1)" text-anchor="end">-10</text>
<text transform="translate(48.8 535.1) scale(0.945 1)" text-anchor="end">-20</text>
<text transform="translate(48.8 558.1) scale(0.945 1)" text-anchor="end">-30</text>
<text transform="translate(48.8 580.1) scale(0.945 1)" text-anchor="end">-40</text>
<text transform="translate(48.8 602.1) scale(0.945 1)" text-anchor="end">-50</text>
<text transform="translate(48.8 625.1) scale(0.945 1)" text-anchor="end">-60</text>
<text transform="translate(48.8 648.1) scale(0.945 1)" text-anchor="end">-70</text>
<text transform="translate(54.5 667.2) scale(0.945 1)" text-anchor="middle">-</text>
<text transform="translate(116.5 667.2) scale(0.945 1)" text-anchor="middle">500</text>
<text transform="translate(170.1 667.2) scale(0.945 1)" text-anchor="middle">1<tspan dx="-0.7">,</tspan><tspan dx="-0.9">000</tspan></text>
<text transform="translate(224.1 667.2) scale(0.945 1)" text-anchor="middle">1<tspan dx="-0.7">,</tspan><tspan dx="-0.9">500</tspan></text>
<text transform="translate(279.1 667.2) scale(0.945 1)" text-anchor="middle">2<tspan dx="-0.7">,</tspan><tspan dx="-0.9">000</tspan></text>
<text transform="translate(333.1 667.2) scale(0.945 1)" text-anchor="middle">2<tspan dx="-0.7">,</tspan><tspan dx="-0.9">500</tspan></text>
<text transform="translate(388.1 667.2) scale(0.945 1)" text-anchor="middle">3<tspan dx="-0.7">,</tspan><tspan dx="-0.9">000</tspan></text>
<text transform="translate(224.3 682.5) scale(0.98 1)" text-anchor="middle">MHz</text>
</g>
<text transform="translate(19.6 567.4) rotate(-90) scale(0.933 1)" text-anchor="middle" font-family='"Liberation Sans", sans-serif' font-size="13.3" fill="#000" stroke="#000" stroke-width="0.2">dB (S21)</text>
<rect x="71.8" y="619.6" width="56.6" height="19.5" fill="#FFFF00" stroke="#000" stroke-width="1"/>
<text x="100.2" y="632.9" text-anchor="middle" font-family='"Liberation Sans", sans-serif' font-size="13.8" fill="#000" stroke="#000" stroke-width="0.2">FAM6B</text>
<rect x="306.9" y="515.5" width="49.1" height="14.5" fill="#fff" fill-opacity="0.8"/>
<rect x="307.8" y="516.4" width="47.3" height="12.7" fill="#FF0000"/>
<text transform="translate(331.05 525.9) scale(1.03 1)" text-anchor="middle" font-family='"Liberation Sans", sans-serif' font-size="8.5" fill="#fff" fill-opacity="0.93">0.05mm</text>
<rect x="306.9" y="539.3" width="49.1" height="14.7" fill="#fff" fill-opacity="0.8"/>
<rect x="307.8" y="540.2" width="47.3" height="12.9" fill="#000000"/>
<text transform="translate(331.05 549.9) scale(1.03 1)" text-anchor="middle" font-family='"Liberation Sans", sans-serif' font-size="8.5" fill="#fff" fill-opacity="0.93">0.1mm</text>
<rect x="306.9" y="560.2" width="49.1" height="15.7" fill="#fff" fill-opacity="0.8"/>
<rect x="307.8" y="561.1" width="47.3" height="13.9" fill="#0000FF"/>
<text transform="translate(331.05 570.9) scale(1.03 1)" text-anchor="middle" font-family='"Liberation Sans", sans-serif' font-size="8.5" fill="#fff" fill-opacity="0.93">0.2mm</text>
<rect x="306.9" y="588.7" width="49.1" height="15.3" fill="#fff" fill-opacity="0.8"/>
<rect x="307.8" y="589.6" width="47.3" height="13.5" fill="#FF00FF"/>
<text transform="translate(331.05 599.6) scale(1.03 1)" text-anchor="middle" font-family='"Liberation Sans", sans-serif' font-size="8.5" fill="#fff" fill-opacity="0.93">0.3mm</text>
<rect x="306.9" y="615.1" width="49.1" height="14.8" fill="#fff" fill-opacity="0.8"/>
<rect x="307.8" y="616" width="47.3" height="13" fill="#993366"/>
<text transform="translate(331.05 625.6) scale(1.03 1)" text-anchor="middle" font-family='"Liberation Sans", sans-serif' font-size="8.5" fill="#fff" fill-opacity="0.93">0.5mm</text>
</g>
<g>
<rect x="422.5" y="473.5" width="405" height="220" fill="#99CCFF" stroke="#000" stroke-width="1"/>
<rect x="482.5" y="486.5" width="327" height="160" fill="none" stroke="#808080" stroke-width="1"/>
<path d="M482 486.5H809M482 518.5H809M482 550.5H809M482 582.5H809M482 614.5H809M482 646.5H485M482.5 486V647M537.5 486V647M591.5 486V647M645.5 486V647M700.5 486V647M754.5 486V647" stroke="#000" stroke-width="1" fill="none" shape-rendering="crispEdges"/>
<g fill="none" stroke-width="3" stroke-linejoin="round" shape-rendering="crispEdges">
<path d="M482.5 495.5 L485.91 495.72 L489.31 495.94 L492.72 496.16 L496.12 496.39 L499.53 496.63 L502.94 496.86 L506.34 497.1 L509.75 497.34 L513.16 497.59 L516.56 497.84 L519.97 498.09 L523.38 498.35 L526.78 498.61 L530.19 498.87 L533.59 499.13 L537 499.4 L540.41 499.67 L543.81 499.95 L547.22 500.23 L550.62 500.52 L554.03 500.81 L557.44 501.11 L560.84 501.41 L564.25 501.71 L567.66 502.02 L571.06 502.32 L574.47 502.64 L577.88 502.95 L581.28 503.26 L584.69 503.57 L588.09 503.89 L591.5 504.2 L594.91 504.51 L598.31 504.8 L601.72 505.1 L605.12 505.4 L608.53 505.71 L611.94 506.05 L615.34 506.41 L618.75 506.8 L622.16 507.25 L625.56 507.77 L628.97 508.33 L632.38 508.93 L635.78 509.54 L639.19 510.15 L642.59 510.74 L646 511.3 L649.41 511.83 L652.81 512.36 L656.22 512.89 L659.62 513.41 L663.03 513.93 L666.44 514.45 L669.84 514.96 L673.25 515.47 L676.66 515.97 L680.06 516.47 L683.47 516.96 L686.88 517.44 L690.28 517.92 L693.69 518.39 L697.09 518.85 L700.5 519.3 L703.91 519.74 L707.31 520.17 L710.72 520.59 L714.12 521 L717.53 521.4 L720.94 521.79 L724.34 522.18 L727.75 522.57 L731.16 522.96 L734.56 523.35 L737.97 523.74 L741.38 524.14 L744.78 524.54 L748.19 524.95 L751.59 525.37 L755 525.8 L758.41 526.24 L761.81 526.69 L765.22 527.14 L768.62 527.59 L772.03 528.05 L775.44 528.51 L778.84 528.98 L782.25 529.46 L785.66 529.94 L789.06 530.42 L792.47 530.9 L795.88 531.39 L799.28 531.89 L802.69 532.39 L806.09 532.89 L809.5 533.4" stroke="#FF0000"/>
<path d="M482.5 497.7 L485.91 498.1 L489.31 498.51 L492.72 498.93 L496.12 499.34 L499.53 499.76 L502.94 500.18 L506.34 500.61 L509.75 501.04 L513.16 501.47 L516.56 501.91 L519.97 502.35 L523.38 502.79 L526.78 503.24 L530.19 503.69 L533.59 504.14 L537 504.6 L540.41 505.06 L543.81 505.53 L547.22 506.01 L550.62 506.49 L554.03 506.98 L557.44 507.48 L560.84 507.97 L564.25 508.47 L567.66 508.97 L571.06 509.47 L574.47 509.96 L577.88 510.46 L581.28 510.95 L584.69 511.44 L588.09 511.92 L591.5 512.4 L594.91 512.86 L598.31 513.31 L601.72 513.75 L605.12 514.19 L608.53 514.63 L611.94 515.1 L615.34 515.58 L618.75 516.1 L622.16 516.67 L625.56 517.28 L628.97 517.93 L632.38 518.6 L635.78 519.28 L639.19 519.95 L642.59 520.59 L646 521.2 L649.41 521.78 L652.81 522.35 L656.22 522.92 L659.62 523.48 L663.03 524.03 L666.44 524.57 L669.84 525.11 L673.25 525.64 L676.66 526.16 L680.06 526.68 L683.47 527.19 L686.88 527.68 L690.28 528.18 L693.69 528.66 L697.09 529.13 L700.5 529.6 L703.91 530.06 L707.31 530.51 L710.72 530.95 L714.12 531.38 L717.53 531.8 L720.94 532.22 L724.34 532.64 L727.75 533.05 L731.16 533.45 L734.56 533.85 L737.97 534.25 L741.38 534.64 L744.78 535.03 L748.19 535.42 L751.59 535.81 L755 536.2 L758.41 536.59 L761.81 536.97 L765.22 537.36 L768.62 537.74 L772.03 538.12 L775.44 538.49 L778.84 538.86 L782.25 539.24 L785.66 539.6 L789.06 539.97 L792.47 540.33 L795.88 540.69 L799.28 541.05 L802.69 541.4 L806.09 541.75 L809.5 542.1" stroke="#000000"/>
<path d="M482.5 507.4 L485.91 508.55 L489.31 509.69 L492.72 510.84 L496.12 511.98 L499.53 513.11 L502.94 514.24 L506.34 515.37 L509.75 516.5 L513.16 517.63 L516.56 518.76 L519.97 519.89 L523.38 521.02 L526.78 522.14 L530.19 523.25 L533.59 524.33 L537 525.4 L540.41 526.43 L543.81 527.43 L547.22 528.4 L550.62 529.37 L554.03 530.34 L557.44 531.32 L560.84 532.34 L564.25 533.4 L567.66 534.5 L571.06 535.62 L574.47 536.79 L577.88 538.02 L581.28 539.32 L584.69 540.69 L588.09 542.16 L591.5 543.8 L594.91 545.74 L598.31 547.89 L601.72 550.16 L605.12 552.37 L608.53 554.21 L611.94 555.87 L615.34 557.44 L618.75 559 L622.16 560.57 L625.56 562.11 L628.97 563.61 L632.38 565.04 L635.78 566.41 L639.19 567.72 L642.59 569.01 L646 570.3 L649.41 571.61 L652.81 572.91 L656.22 574.21 L659.62 575.52 L663.03 576.83 L666.44 578.15 L669.84 579.45 L673.25 580.72 L676.66 581.97 L680.06 583.2 L683.47 584.39 L686.88 585.53 L690.28 586.57 L693.69 587.55 L697.09 588.51 L700.5 589.5 L703.91 590.54 L707.31 591.6 L710.72 592.68 L714.12 593.77 L717.53 594.86 L720.94 595.93 L724.34 596.98 L727.75 598 L731.16 598.98 L734.56 599.93 L737.97 600.87 L741.38 601.79 L744.78 602.71 L748.19 603.63 L751.59 604.55 L755 605.5 L758.41 606.46 L761.81 607.44 L765.22 608.43 L768.62 609.42 L772.03 610.41 L775.44 611.39 L778.84 612.35 L782.25 613.3 L785.66 614.23 L789.06 615.15 L792.47 616.07 L795.88 616.97 L799.28 617.87 L802.69 618.76 L806.09 619.63 L809.5 620.5" stroke="#0000FF"/>
</g>
<g font-family='"Liberation Sans", sans-serif' font-size="11.2" fill="#000">
<text transform="translate(456 489.1) scale(0.945 1)" text-anchor="middle">-</text>
<text transform="translate(469.8 521.1) scale(0.945 1)" text-anchor="end">-0.3</text>
<text transform="translate(469.8 553.1) scale(0.945 1)" text-anchor="end">-0.6</text>
<text transform="translate(469.8 585.1) scale(0.945 1)" text-anchor="end">-0.9</text>
<text transform="translate(469.8 617.1) scale(0.945 1)" text-anchor="end">-1.2</text>
<text transform="translate(469.8 649.1) scale(0.945 1)" text-anchor="end">-1.5</text>
<text transform="translate(475.5 668) scale(0.945 1)" text-anchor="middle">-</text>
<text transform="translate(537.5 668) scale(0.945 1)" text-anchor="middle">500</text>
<text transform="translate(591.1 668) scale(0.945 1)" text-anchor="middle">1<tspan dx="-0.7">,</tspan><tspan dx="-0.9">000</tspan></text>
<text transform="translate(645.1 668) scale(0.945 1)" text-anchor="middle">1<tspan dx="-0.7">,</tspan><tspan dx="-0.9">500</tspan></text>
<text transform="translate(700.1 668) scale(0.945 1)" text-anchor="middle">2<tspan dx="-0.7">,</tspan><tspan dx="-0.9">000</tspan></text>
<text transform="translate(754.1 668) scale(0.945 1)" text-anchor="middle">2<tspan dx="-0.7">,</tspan><tspan dx="-0.9">500</tspan></text>
<text transform="translate(809.1 668) scale(0.945 1)" text-anchor="middle">3<tspan dx="-0.7">,</tspan><tspan dx="-0.9">000</tspan></text>
<text transform="translate(643.5 682.4) scale(0.98 1)" text-anchor="middle">MHz</text>
</g>
<text transform="translate(439.4 566.2) rotate(-90) scale(0.933 1)" text-anchor="middle" font-family='"Liberation Sans", sans-serif' font-size="13.3" fill="#000" stroke="#000" stroke-width="0.2">dB (S21)</text>
<rect x="498.9" y="610.6" width="47.6" height="19.65" fill="#FFFF00" stroke="#000" stroke-width="1"/>
<text x="522.8" y="623.8" text-anchor="middle" font-family='"Liberation Sans", sans-serif' font-size="13.8" fill="#000" stroke="#000" stroke-width="0.2">FAM7</text>
<rect x="731" y="501.7" width="47.9" height="14.7" fill="#fff" fill-opacity="0.8"/>
<rect x="731.9" y="502.6" width="46.1" height="12.9" fill="#FF0000"/>
<text transform="translate(754.55 512.1) scale(1.03 1)" text-anchor="middle" font-family='"Liberation Sans", sans-serif' font-size="8.5" fill="#fff" fill-opacity="0.93">0.08mm</text>
<rect x="731" y="541.3" width="47.9" height="15.4" fill="#fff" fill-opacity="0.8"/>
<rect x="731.9" y="542.2" width="46.1" height="13.6" fill="#000000"/>
<text transform="translate(754.55 552) scale(1.03 1)" text-anchor="middle" font-family='"Liberation Sans", sans-serif' font-size="8.5" fill="#fff" fill-opacity="0.93">0.12mm</text>
<rect x="731" y="580.4" width="47.9" height="15.3" fill="#fff" fill-opacity="0.8"/>
<rect x="731.9" y="581.3" width="46.1" height="13.5" fill="#0000FF"/>
<text transform="translate(754.55 591.2) scale(1.03 1)" text-anchor="middle" font-family='"Liberation Sans", sans-serif' font-size="8.5" fill="#fff" fill-opacity="0.93">0.22mm</text>
</g>
<g id="note" font-family='"Liberation Sans", "Noto Sans CJK TC", sans-serif'>
<circle cx="9.1" cy="712.1" r="4" fill="#000"/>
<text x="18.6" y="717.2" font-size="12.5" letter-spacing="0.8" fill="#000">以上測值僅供參考，非規格值。</text>
<path d="M18.5 721.0 L20.0 718.9 L21.5 721.1 L23.0 718.9 L24.5 721.1 L26.0 718.9 L27.5 721.1 L29.0 718.9 L30.5 721.1 L32.0 718.9 L33.5 721.1 L35.0 718.9 L36.5 721.1 L38.0 718.9 L39.5 721.1 L41.0 718.9 L42.5 721.1 L44.0 718.9 L45.5 721.1 L47.0 718.9 L48.5 721.1 L50.0 718.9 L51.5 721.1 L53.0 718.9 L54.5 721.1 L56.0 718.9 L57.5 721.1" fill="none" stroke="#1f9c1f" stroke-width="1"/>
<rect x="6.5" y="749.5" width="95" height="33" fill="#fff" stroke="#000" stroke-width="1"/>
<text x="54" y="770.8" font-size="16.5" font-weight="bold" fill="#0000FF" text-anchor="middle">測試方式</text>
</g>
<g id="diagram" stroke-linejoin="miter">
<!-- wires -->
<!-- analyzer -->
<path d="M165.6 770.6L186.9 749.6H291.3L312.2 770.6Z" fill="#C3C3C3" stroke="#000" stroke-width="1.6"/>
<rect x="165.6" y="770.6" width="146.6" height="75.1" fill="#fff" stroke="#000" stroke-width="1.6"/>
<rect x="168.4" y="773.5" width="140.9" height="69.2" fill="#C3C3C3" stroke="#000" stroke-width="1.4"/>
<rect x="175.3" y="778.7" width="76" height="57.3" fill="#99D9EA" stroke="#000" stroke-width="1.7"/>
<path d="M172.6 846.6H190.7L187.1 850.8H176.2Z" fill="#CFCFCF" stroke="#111" stroke-width="1.2"/>
<path d="M286.7 846.6H304.8L301.7 850.8H290.3Z" fill="#CFCFCF" stroke="#111" stroke-width="1.2"/>
<path d="M264.7 833.3V876.3H469V818.3H464" fill="none" stroke="#000" stroke-width="1.4"/>
<path d="M293.9 833.3V855.6H322.6V818.3H328" fill="none" stroke="#000" stroke-width="1.4"/>
<circle cx="264.7" cy="833.3" r="3" fill="#8a8a8a" stroke="#000" stroke-width="1.7"/>
<circle cx="293.9" cy="833.3" r="3" fill="#8a8a8a" stroke="#000" stroke-width="1.7"/>
<!-- analyzer label -->
<path d="M181.4 855.4V863.5H194.1" fill="none" stroke="#222" stroke-width="1.1"/>
<rect x="199.7" y="856.7" width="48.3" height="13.2" fill="#fff" stroke="#3a3a3a" stroke-width="1.3"/>
<text x="223.6" y="866.6" font-family='"Liberation Sans", "Noto Sans CJK TC", sans-serif' font-size="8.7" font-weight="bold" fill="#333" text-anchor="middle">網路分析儀</text>
<!-- waveguide -->
<rect x="328" y="816.1" width="3.4" height="4.4" fill="#fff" stroke="#000" stroke-width="1"/>
<rect x="460.4" y="816.1" width="3.6" height="4.4" fill="#fff" stroke="#000" stroke-width="1"/>
<path d="M331.6 814.6L359.7 803.4H384V833.1H359.7L331.6 821.8Z" fill="#C3C3C3" stroke="#000" stroke-width="1.5"/>
<path d="M410.4 803.3H431.7L459.7 814.6V821.8L431.7 832.9H410.4Z" fill="#C3C3C3" stroke="#000" stroke-width="1.5"/>
<rect x="384.5" y="798.1" width="7" height="39.8" fill="#C3C3C3" stroke="#000" stroke-width="1.4"/>
<rect x="394.6" y="798.1" width="5" height="39.8" fill="#3F48CC" stroke="#000" stroke-width="1.4"/>
<rect x="402.9" y="798.1" width="7" height="39.8" fill="#C3C3C3" stroke="#000" stroke-width="1.4"/>
<!-- FAM label -->
<path d="M383.2 771.3H397.5V795" fill="none" stroke="#111" stroke-width="1.2"/>
<rect x="355.6" y="764.6" width="25.7" height="14.2" fill="#fff" stroke="#2a2a2a" stroke-width="1.3"/>
<text x="368" y="775" font-family='"Liberation Sans", sans-serif' font-size="9.6" fill="#111" stroke="#111" stroke-width="0.3" text-anchor="middle" textLength="20.2" lengthAdjust="spacingAndGlyphs">FAM</text>
<!-- coax label -->
<path d="M453.8 782.2V808.6" fill="none" stroke="#222" stroke-width="1.2"/>
<rect x="414.7" y="765.5" width="48.9" height="13" fill="#fff" stroke="#2a2a2a" stroke-width="1.3"/>
<text x="439.2" y="775.4" font-family='"Liberation Sans", "Noto Sans CJK TC", sans-serif' font-size="8.8" font-weight="bold" fill="#333" text-anchor="middle">同軸導波管</text>
<!-- red arrows -->
<path d="M326.4 848.1H329.4V862H312V863.6L304.2 860.5L312 857.4V859H326.4Z" fill="#ED1C24" stroke="#000" stroke-width="0.9"/>
<path d="M268.3 855.4H271.4V869.6H286.7V868L294.5 871.1L286.7 874.2V872.7H268.3Z" fill="#ED1C24" stroke="#000" stroke-width="0.9"/>
<path d="M451.6 869.6H462.7V851.2H460.7L464 843.6L467.3 851.2H465.9V872.5H451.6Z" fill="#ED1C24" stroke="#000" stroke-width="0.9"/>
<text x="335" y="859.2" font-family='"Liberation Sans", sans-serif' font-size="8.9" font-weight="bold" fill="#F0323C">S21</text>
</g>

</svg>
</body>
</html>
